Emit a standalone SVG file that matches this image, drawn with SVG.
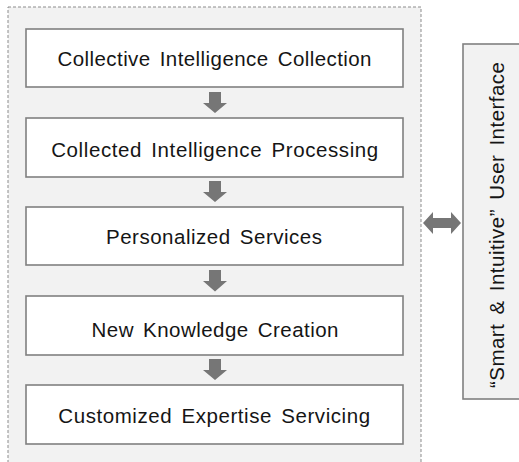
<svg xmlns="http://www.w3.org/2000/svg" width="519" height="462" viewBox="0 0 519 462">
<style>
.box{fill:#ffffff;stroke:#808080;stroke-width:1.6}
.t{font-family:"Liberation Sans",Arial,sans-serif;font-size:20.5px;fill:#151515;text-anchor:middle;word-spacing:3px}
.arr{fill:#767676}
</style>
<rect x="0" y="0" width="519" height="462" fill="#ffffff"/>
<rect x="8" y="7" width="413" height="470" fill="#f2f2f2" stroke="#8c8c8c" stroke-width="1" stroke-dasharray="3,2"/>
<g id="n1"><rect class="box" x="26" y="29" width="377" height="58"/><text class="t" x="214.5" y="65.5" textLength="314" lengthAdjust="spacing">Collective Intelligence Collection</text></g>
<g id="n2"><rect class="box" x="26" y="118" width="377" height="59"/><text class="t" x="214.7" y="156.5" textLength="327" lengthAdjust="spacing">Collected Intelligence Processing</text></g>
<g id="n3"><rect class="box" x="26" y="207" width="377" height="58"/><text class="t" x="214" y="244" textLength="216" lengthAdjust="spacing">Personalized Services</text></g>
<g id="n4"><rect class="box" x="26" y="296" width="377" height="59"/><text class="t" x="215" y="336.5" textLength="247" lengthAdjust="spacing">New Knowledge Creation</text></g>
<g id="n5"><rect class="box" x="26" y="385" width="377" height="59"/><text class="t" x="214.2" y="423" textLength="311.7" lengthAdjust="spacing">Customized Expertise Servicing</text></g>
<g id="n6"><rect x="463" y="44" width="70" height="355" fill="#f2f2f2" stroke="#808080" stroke-width="1.6"/><text class="t" transform="translate(503.5,225) rotate(-90)" x="0" y="0" textLength="326" lengthAdjust="spacing">“Smart &amp; Intuitive” User Interface</text></g>
<g id="connectors">
<polygon class="arr" points="209,92 221,92 221,103 227,103 215,113 203,103 209,103"/>
<polygon class="arr" points="209,181 221,181 221,192 227,192 215,202 203,192 209,192"/>
<polygon class="arr" points="209,270 221,270 221,281 227,281 215,291.5 203,281 209,281"/>
<polygon class="arr" points="209,359 221,359 221,370 227,370 215,380 203,370 209,370"/>
<polygon class="arr" points="423,223 433,212 433,218 451,218 451,212 461,223 451,234 451,228 433,228 433,234"/>
</g>
</svg>
